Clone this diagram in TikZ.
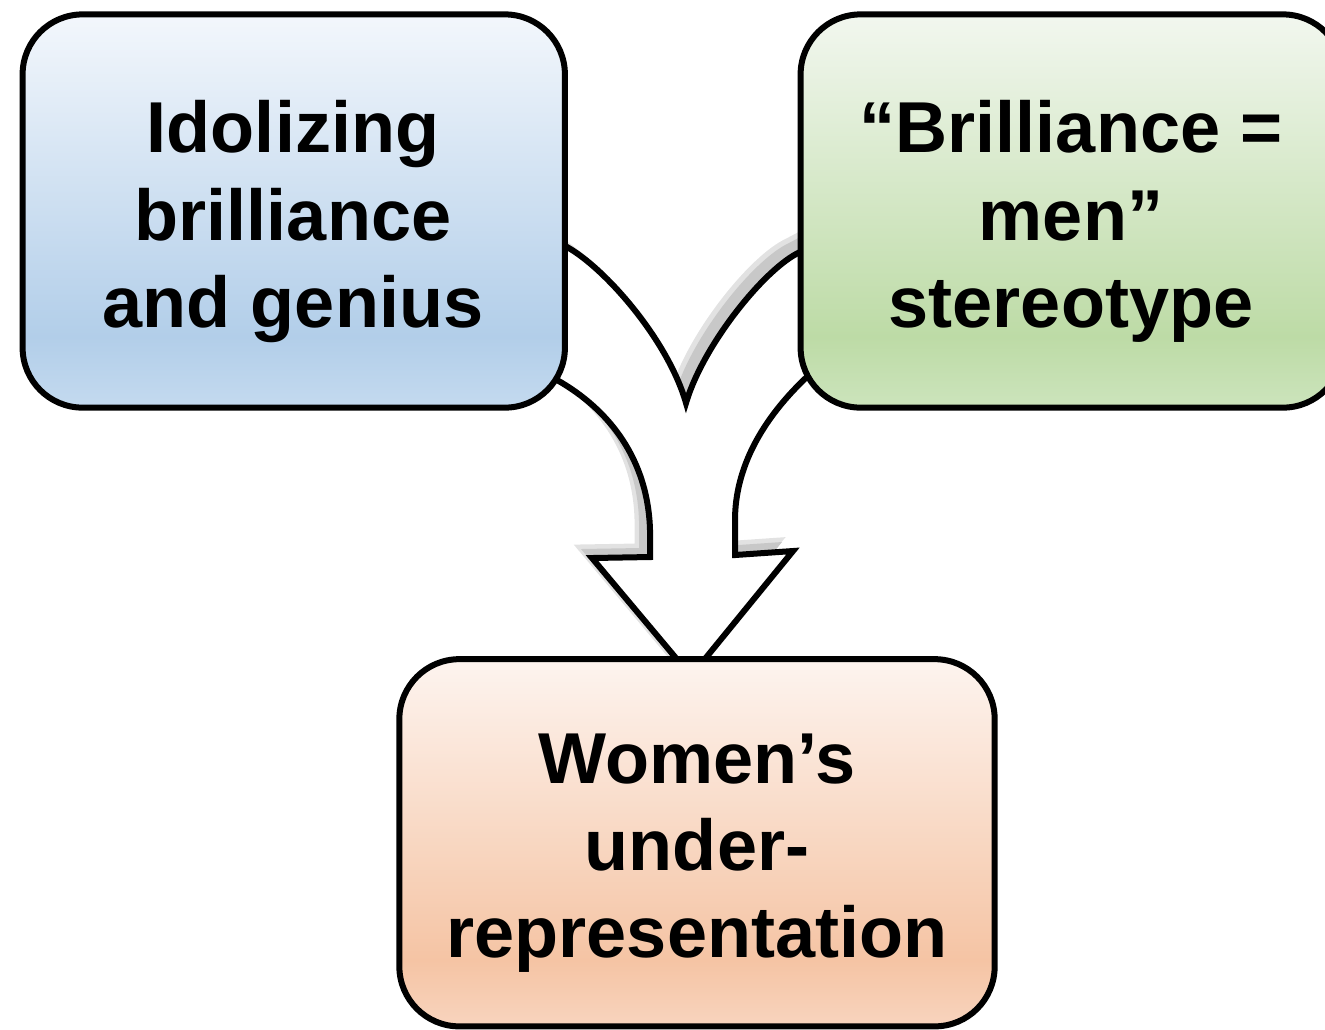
\documentclass[tikz,border=0pt]{standalone}
\usepackage{fontspec}
\setmainfont{Liberation Sans}
\definecolor{bluetop}{HTML}{F3F7FC}
\definecolor{bluemid}{HTML}{B2CEE9}
\definecolor{bluebot}{HTML}{C4DAEF}
\definecolor{greentop}{HTML}{F2F7EF}
\definecolor{greenmid}{HTML}{BDDBA6}
\definecolor{greenbot}{HTML}{CCE4BC}
\definecolor{orangetop}{HTML}{FDF4EF}
\definecolor{orangemid}{HTML}{F5C4A4}
\definecolor{orangebot}{HTML}{F8D4BE}
\definecolor{shadowgray}{HTML}{C8C8C8}
\definecolor{shadowlight}{HTML}{E2E2E2}
\pgfdeclareverticalshading{blueshade}{100bp}{color(0bp)=(bluebot); color(25bp)=(bluebot); color(34bp)=(bluemid); color(75bp)=(bluetop); color(100bp)=(bluetop)}
\pgfdeclareverticalshading{greenshade}{100bp}{color(0bp)=(greenbot); color(25bp)=(greenbot); color(34bp)=(greenmid); color(75bp)=(greentop); color(100bp)=(greentop)}
\pgfdeclareverticalshading{orangeshade}{100bp}{color(0bp)=(orangebot); color(25bp)=(orangebot); color(34bp)=(orangemid); color(75bp)=(orangetop); color(100bp)=(orangetop)}
\newcommand\mergearrowpath{(540,228) -- (567,247) .. controls (605,268) and (668,340) .. (686,403) .. controls (703,345) and (765,268) .. (800,252) -- (830,236) -- (835,372) -- (810,374) .. controls (760,420) and (735,470) .. (735,520) -- (735,555) -- (793,551) -- (691,676) -- (592,558) -- (650,557) -- (650,530) .. controls (648,460) and (610,410) .. (557,380) -- (530,365) -- cycle}
\begin{document}
\begin{tikzpicture}[x=0.01cm,y=-0.01cm,
  box/.style={draw=black, line width=0.06cm, rounded corners=0.6cm, rectangle, inner sep=0pt},
  label/.style={font=\bfseries\fontsize{20.5}{24.8}\selectfont, align=center, inner sep=0pt, anchor=north}]
\useasboundingbox (0,0) rectangle (1325,1029);
\clip (0,0) rectangle (1325,1029);
% merged arrow with soft shadow
\draw[shadowlight, fill=shadowlight, line width=0.05cm, shift={(-13,-11)}] \mergearrowpath;
\fill[shadowgray, shift={(-11,-9)}] \mergearrowpath;
\draw[line width=0.06cm, fill=white, line join=miter] \mergearrowpath;
% boxes
\node[box, shading=blueshade, minimum width=5.42cm, minimum height=3.93cm] (blue) at (293.75,211) {};
\node[box, shading=greenshade, minimum width=5.42cm, minimum height=3.93cm] (green) at (1071.75,211) {};
\node[box, shading=orangeshade, minimum width=5.95cm, minimum height=3.67cm] (orange) at (697,842.75) {};
% texts
\node[label] (bluetext) at (293,100) {Idolizing\\brilliance\\and genius};
\node[label] (greentext) at (1071,100) {“Brilliance =\\men”\\stereotype};
\node[label] (orangetext) at (697,733) {Women’s\\under-\\representation};
\end{tikzpicture}
\end{document}
